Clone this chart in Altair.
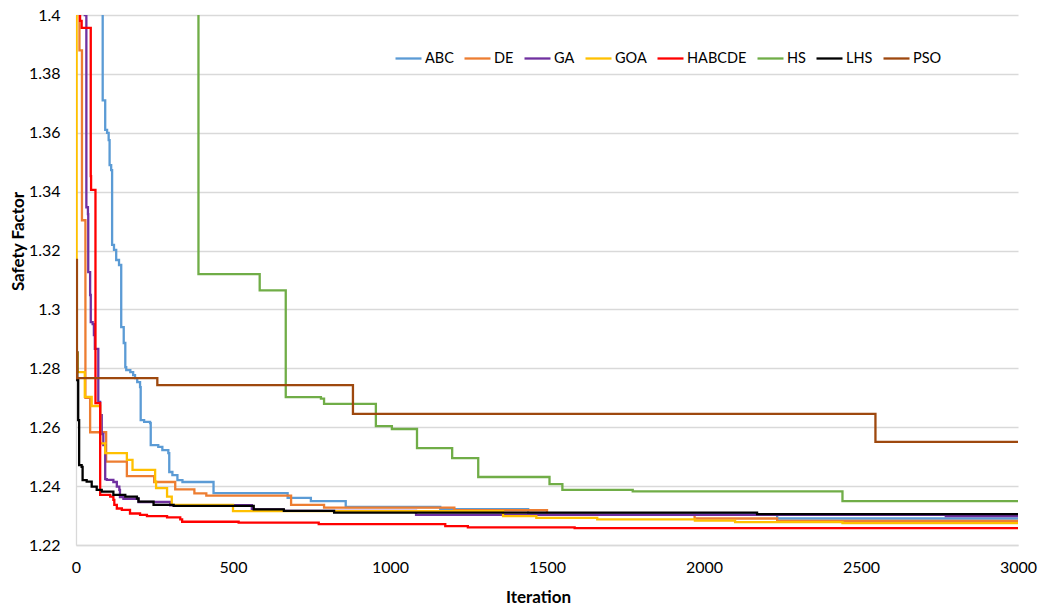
import altair as alt
import pandas as pd

# Convergence history of the safety factor for each optimiser (iteration, best value).
# Each series is a step curve: the value holds until the next recorded improvement.
NAMES = ["ABC", "DE", "GA", "GOA", "HABCDE", "HS", "LHS", "PSO"]
COLORS = ["#5B9BD5", "#ED7D31", "#7030A0", "#FFC000", "#FF0000", "#70AD47", "#000000", "#9E480E"]
WIDTHS = [2.3, 2.3, 2.3, 2.5, 3.0, 2.5, 3.0, 3.0]

ABC_ITER = [0, 85, 93, 99, 104, 107, 112, 115, 121, 128, 137, 144, 152, 157, 160, 173, 182, 188,
            195, 204, 206, 217, 236, 238, 262, 275, 294, 297, 307, 323, 339, 438, 674, 748, 859,
            1160, 1440, 2233, 3000]
ABC_VAL = [1.60, 1.371, 1.361, 1.360, 1.3575, 1.349, 1.3473, 1.3219, 1.3202, 1.3168, 1.3151, 1.294,
           1.2886, 1.2804, 1.2794, 1.2787, 1.2777, 1.2767, 1.2753, 1.2736, 1.2624, 1.2618, 1.2614,
           1.2539, 1.2533, 1.2522, 1.2512, 1.2448, 1.2437, 1.2420, 1.2414, 1.2376, 1.2360, 1.2349,
           1.2329, 1.2322, 1.2305, 1.2290, 1.2290]

DE_ITER = [0, 11, 19, 30, 45, 96, 162, 249, 316, 377, 415, 685, 790, 1205, 1500, 1970, 2233, 3000]
DE_VAL = [1.45, 1.388, 1.3303, 1.270, 1.2583, 1.2483, 1.2434, 1.2414, 1.2389, 1.2375, 1.2368,
          1.2336, 1.2327, 1.2318, 1.2302, 1.2290, 1.2282, 1.2282]

GA_ITER = [0, 28, 33, 38, 39, 45, 47, 53, 57, 60, 71, 77, 82, 87, 93, 98, 119, 130, 138, 140, 151,
           194, 199, 300, 560, 660, 1083, 2770, 3000]
GA_VAL = [1.45, 1.40, 1.3347, 1.3324, 1.3127, 1.3049, 1.2957, 1.2950, 1.2913, 1.2866, 1.2686,
          1.2641, 1.2577, 1.2539, 1.2424, 1.2421, 1.2414, 1.2398, 1.2387, 1.2363, 1.2357, 1.2357,
          1.2346, 1.2335, 1.2321, 1.2316, 1.2302, 1.2298, 1.2298]

GOA_ITER = [0, 2, 5, 28, 50, 77, 93, 162, 180, 252, 255, 290, 305, 500, 1360, 1466, 1660, 1971,
            2099, 2441, 3000]
GOA_VAL = [1.45, 1.2852, 1.2787, 1.2703, 1.2672, 1.2545, 1.2512, 1.2489, 1.2455, 1.2415, 1.2393,
           1.2364, 1.2336, 1.2315, 1.2298, 1.2292, 1.2287, 1.2283, 1.2278, 1.2274, 1.2274]

HABCDE_ITER = [0, 13, 18, 47, 48, 62, 77, 109, 119, 122, 130, 146, 172, 204, 226, 290, 332, 338,
               518, 773, 1176, 1248, 1588, 3000]
HABCDE_VAL = [1.46, 1.398, 1.3956, 1.3453, 1.3406, 1.2682, 1.2370, 1.2364, 1.2353, 1.2336, 1.2324,
              1.2319, 1.2307, 1.2302, 1.2298, 1.2294, 1.2287, 1.2279, 1.2276, 1.2271, 1.2264,
              1.2260, 1.2257, 1.2257]

HS_ITER = [0, 390, 585, 668, 780, 790, 955, 1006, 1086, 1198, 1281, 1508, 1549, 1773, 2441, 3000]
HS_VAL = [1.50, 1.312, 1.3065, 1.2702, 1.2697, 1.2679, 1.2604, 1.2594, 1.2529, 1.2495, 1.2431,
          1.2407, 1.2387, 1.2382, 1.2349, 1.2349]

LHS_ITER = [0, 4, 7, 10, 18, 21, 34, 50, 66, 82, 119, 157, 194, 199, 247, 311, 566, 662, 822,
            2169, 3000]
LHS_VAL = [1.2855, 1.2760, 1.2624, 1.2471, 1.2465, 1.2420, 1.2415, 1.2398, 1.2387, 1.2381, 1.2370,
           1.2364, 1.2358, 1.2347, 1.2336, 1.2333, 1.2321, 1.2316, 1.2310, 1.2305, 1.2305]

PSO_ITER = [0, 3, 259, 882, 2546, 3000]
PSO_VAL = [1.3168, 1.2767, 1.2743, 1.2645, 1.2550, 1.2550]

X_TICKS = [0, 500, 1000, 1500, 2000, 2500, 3000]
Y_TICKS = [1.22, 1.24, 1.26, 1.28, 1.30, 1.32, 1.34, 1.36, 1.38, 1.40]

SERIES = {
    "ABC": (ABC_ITER, ABC_VAL),
    "DE": (DE_ITER, DE_VAL),
    "GA": (GA_ITER, GA_VAL),
    "GOA": (GOA_ITER, GOA_VAL),
    "HABCDE": (HABCDE_ITER, HABCDE_VAL),
    "HS": (HS_ITER, HS_VAL),
    "LHS": (LHS_ITER, LHS_VAL),
    "PSO": (PSO_ITER, PSO_VAL),
}

rows = []
for order, name in enumerate(NAMES):
    its, vals = SERIES[name]
    for it, v in zip(its, vals):
        rows.append({"series": name, "order": order, "iteration": it, "sf": v})
df = pd.DataFrame(rows)

FONT = "Lato"
GRID = "#d9d9d9"

chart = (
    alt.Chart(df)
    .mark_line(interpolate="step-after", clip=True, strokeJoin="miter")
    .encode(
        x=alt.X(
            "iteration:Q",
            scale=alt.Scale(domain=[0, 3000], nice=False, zero=False),
            axis=alt.Axis(
                values=X_TICKS, format="d", labelFlush=False, grid=False, ticks=False,
                domain=True, domainColor=GRID, domainWidth=1.3, labelPadding=14,
                labelFontSize=16, labelFont=FONT, labelColor="#000000", title="Iteration",
                titleFont=FONT, titleFontSize=17, titleFontWeight="bold", titleColor="#000000",
                titleX=462, titleY=52, titleBaseline="middle", titleAlign="center",
            ),
        ),
        y=alt.Y(
            "sf:Q",
            scale=alt.Scale(domain=[1.22, 1.40], nice=False, zero=False),
            axis=alt.Axis(
                values=Y_TICKS, format=".2~f", grid=True, gridColor=GRID, gridWidth=1.3,
                ticks=False, domain=True, domainColor=GRID, domainWidth=1.3, labelPadding=16,
                labelFontSize=16, labelFont=FONT, labelColor="#000000", title="Safety Factor",
                titleFont=FONT, titleFontSize=17, titleFontWeight="bold", titleColor="#000000",
                titleAngle=270, titleX=-58, titleY=226, titleBaseline="middle", titleAlign="center",
            ),
        ),
        color=alt.Color(
            "series:N",
            scale=alt.Scale(domain=NAMES, range=COLORS),
            sort=NAMES,
            legend=alt.Legend(
                title=None, orient="none", legendX=318, legendY=29, direction="horizontal",
                symbolType="stroke", symbolSize=676, symbolStrokeWidth=3, labelFont=FONT,
                labelFontSize=14.5, labelColor="#000000", labelOffset=2, columnPadding=5,
                padding=0,
            ),
        ),
        strokeWidth=alt.StrokeWidth(
            "series:N", scale=alt.Scale(domain=NAMES, range=WIDTHS), legend=None
        ),
        order=alt.Order("order:Q"),
    )
    .properties(
        width=942,
        height=530,
        autosize="none",
        padding={"left": 76, "top": 15, "right": 22, "bottom": 65},
        background="#ffffff",
    )
    .configure_view(stroke=None)
)

chart.save("out.html", embed_options={"renderer": "svg", "actions": False})
